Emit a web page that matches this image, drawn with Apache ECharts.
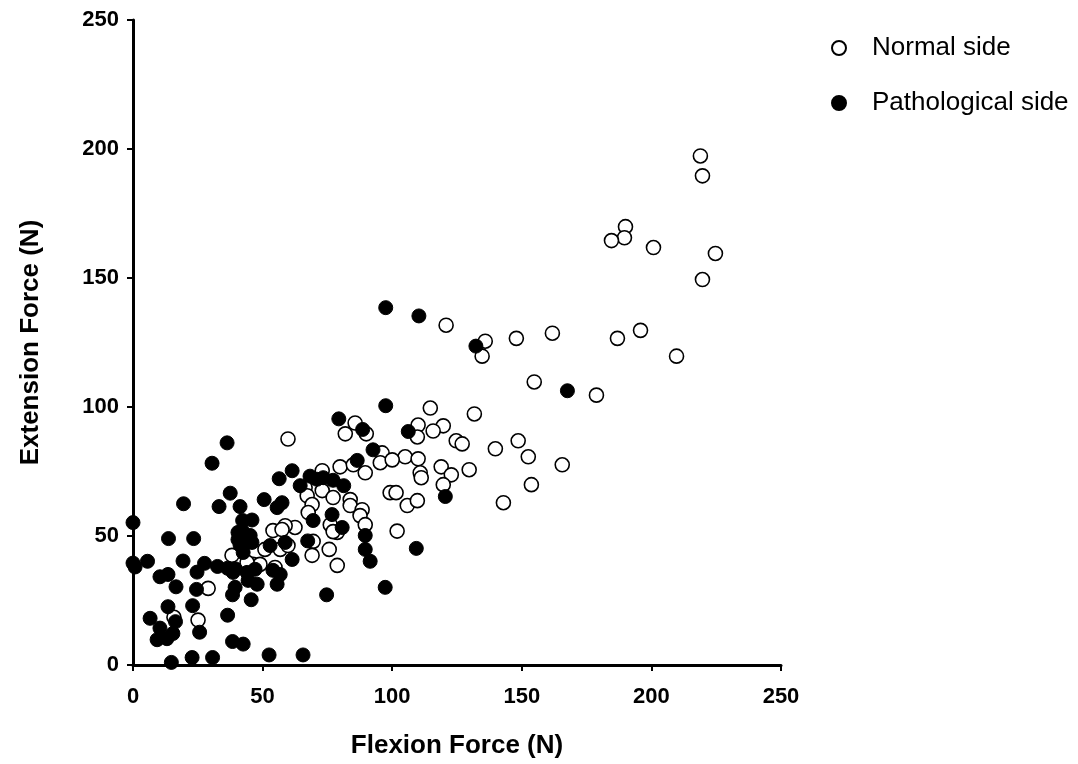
<!DOCTYPE html>
<html>
<head>
<meta charset="utf-8">
<script src="https://cdn.jsdelivr.net/npm/echarts@6/dist/echarts.min.js"></script>
<style>
  html, body { margin: 0; padding: 0; background: #fff; }
  #chart { width: 1078px; height: 764px; }
</style>
</head>
<body>
<div id="chart"></div>
<script>
// 正常侧 (空心圆) [flexion, extension]
var normalSide = [
  [218.9, 197.3], [219.7, 189.6], [190.0, 169.9], [189.6, 165.6], [184.6, 164.5],
  [200.8, 161.8], [224.7, 159.5], [219.7, 149.4], [195.8, 129.7], [186.9, 126.6],
  [209.7, 119.7], [178.8, 104.6], [120.8, 131.7], [135.9, 125.5], [134.7, 119.7],
  [147.9, 126.6], [161.8, 128.6], [154.8, 109.7], [114.7, 99.6], [131.7, 97.3],
  [110.0, 93.0], [119.7, 92.7], [109.7, 88.4], [115.8, 90.7], [124.7, 86.9],
  [127.0, 85.7], [139.8, 83.8], [148.6, 86.9], [152.5, 80.7], [165.6, 77.6],
  [105.0, 80.7], [110.0, 79.9], [118.9, 76.8], [110.8, 74.5], [111.2, 72.6],
  [122.8, 73.7], [129.7, 75.7], [119.7, 69.9], [153.7, 69.9], [99.2, 66.8],
  [101.5, 66.8], [105.8, 61.8], [109.7, 63.7], [142.9, 62.9], [101.9, 51.9],
  [85.7, 93.8], [81.9, 89.6], [90.0, 89.6], [96.1, 82.2], [95.4, 78.4],
  [100.0, 79.5], [79.9, 76.8], [85.0, 77.6], [89.6, 74.5], [73.0, 75.3],
  [59.8, 87.6], [66.4, 68.7], [73.0, 67.6], [77.2, 64.9], [67.2, 65.6],
  [69.1, 62.2], [67.6, 59.1], [83.8, 64.1], [83.8, 61.8], [88.4, 60.2],
  [87.6, 57.9], [89.6, 54.4], [76.1, 54.4], [78.8, 51.4], [77.2, 51.7],
  [62.5, 53.3], [58.7, 54.0], [69.5, 47.9], [75.7, 44.8], [69.1, 42.5],
  [78.8, 38.6], [54.0, 52.1], [57.5, 52.5], [50.9, 44.8], [56.8, 44.8],
  [59.8, 46.3], [54.8, 37.8], [38.2, 42.5], [46.3, 39.0], [49.0, 39.0],
  [44.0, 39.8], [29.0, 29.7], [15.8, 18.5], [25.1, 17.4]
]
// 病理侧 (实心圆)
var pathologicalSide = [
  [97.5, 138.5], [110.3, 135.3], [132.3, 123.6], [167.6, 106.3], [97.5, 100.5],
  [79.4, 95.4], [88.6, 91.3], [106.2, 90.5], [92.6, 83.4], [86.5, 79.3],
  [36.3, 86.1], [30.5, 78.2], [61.4, 75.3], [56.4, 72.2], [64.5, 69.5],
  [68.3, 73.2], [71.0, 72.0], [73.4, 72.6], [77.2, 71.6], [81.3, 69.5],
  [37.5, 66.6], [19.5, 62.5], [33.2, 61.4], [41.3, 61.4], [50.6, 64.1],
  [55.6, 61.0], [57.5, 62.9], [69.5, 56.0], [76.8, 58.3], [80.7, 53.3],
  [89.6, 50.2], [89.6, 44.8], [91.5, 40.2], [67.4, 48.1], [109.3, 45.2],
  [120.5, 65.3], [97.3, 30.1], [74.7, 27.2], [65.6, 3.9], [52.5, 3.9],
  [42.3, 56.0], [45.9, 56.2], [42.1, 52.1], [40.5, 51.4], [45.2, 50.2],
  [40.5, 48.6], [45.9, 47.5], [41.3, 46.5], [42.5, 43.6], [52.9, 46.3],
  [58.7, 47.5], [61.4, 40.9], [0.0, 55.2], [13.7, 49.0], [23.4, 49.0],
  [19.3, 40.3], [5.6, 40.2], [0.0, 39.5], [0.8, 38.0], [27.6, 39.4],
  [24.7, 36.0], [32.6, 38.2], [36.5, 37.5], [38.6, 35.9], [39.4, 37.3],
  [10.4, 34.2], [13.5, 35.1], [16.6, 30.3], [24.5, 29.3], [39.4, 30.1],
  [38.4, 27.2], [44.0, 35.9], [47.1, 37.1], [44.4, 32.8], [47.9, 31.3],
  [45.6, 25.3], [55.6, 31.3], [56.8, 35.1], [54.0, 36.7], [13.5, 22.6],
  [23.0, 23.0], [6.6, 18.1], [10.4, 14.3], [16.4, 16.8], [15.4, 12.2],
  [13.1, 10.2], [9.3, 9.8], [25.7, 12.7], [36.5, 19.3], [38.4, 9.1],
  [42.5, 8.1], [14.8, 1.0], [22.8, 2.9], [30.7, 2.9]
]
var legendNames = ['Normal side', 'Pathological side']
var xTitle = 'Flexion Force (N)'
var yTitle = 'Extension Force (N)'

var fontFamily = '"Liberation Sans", Arial, sans-serif'
var axisColor = '#000'

var myChart = echarts.init(document.getElementById('chart'))

function valueAxis (name, gap, labelMargin) {
  return {
    type: 'value',
    min: 0,
    max: 250,
    interval: 50,
    name: name,
    nameLocation: 'middle',
    nameGap: gap,
    nameTextStyle: { fontFamily: fontFamily, fontWeight: 'bold', fontSize: 26, color: axisColor },
    axisLine: { show: true, onZero: false, lineStyle: { color: axisColor, width: 3 } },
    axisTick: { show: true, length: 6, lineStyle: { color: axisColor, width: 2 } },
    axisLabel: { fontFamily: fontFamily, fontWeight: 'bold', fontSize: 22, color: axisColor, margin: labelMargin },
    splitLine: { show: false }
  }
}

var option = {
  backgroundColor: '#fff',
  animation: false,
  grid: { left: 133, right: 297, top: 20, bottom: 96, containLabel: false },
  legend: {
    data: [
      { name: legendNames[0], icon: 'circle' },
      { name: legendNames[1], icon: 'circle' }
    ],
    orient: 'vertical',
    left: 826,
    top: 30,
    itemWidth: 14,
    itemHeight: 14,
    itemGap: 29,
    textStyle: { fontFamily: fontFamily, fontSize: 26, color: '#000', padding: [0, 0, 0, 21] }
  },
  xAxis: valueAxis(xTitle, 68, 21),
  yAxis: valueAxis(yTitle, 89, 14),
  series: [
    {
      name: legendNames[0],
      type: 'scatter',
      data: normalSide,
      symbol: 'circle',
      symbolSize: 14,
      clip: false,
      itemStyle: { color: '#fff', borderColor: '#000', borderWidth: 1.6, opacity: 1 },
      z: 2
    },
    {
      name: legendNames[1],
      type: 'scatter',
      data: pathologicalSide,
      symbol: 'circle',
      symbolSize: 14,
      clip: false,
      itemStyle: { color: '#000', borderColor: '#000', borderWidth: 1, opacity: 1 },
      z: 3
    }
  ]
}

myChart.setOption(option)
</script>
</body>
</html>
